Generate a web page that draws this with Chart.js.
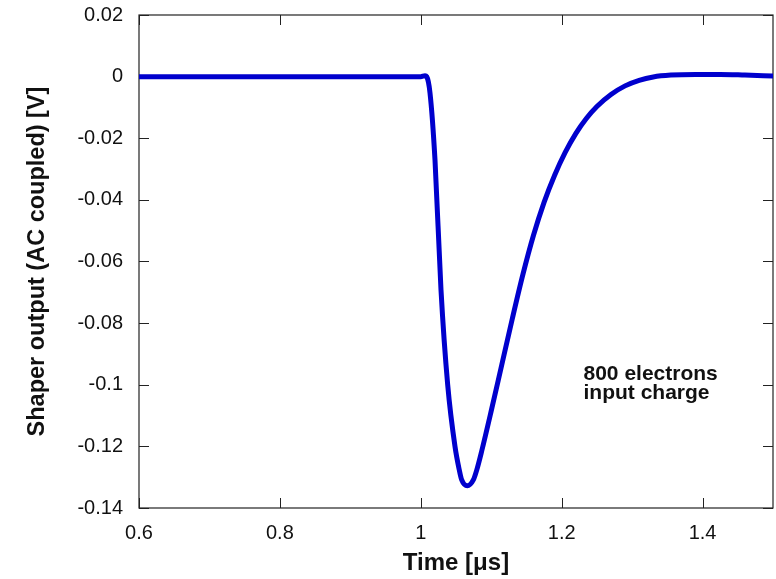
<!DOCTYPE html>
<html>
<head>
<meta charset="utf-8">
<script src="https://cdn.jsdelivr.net/npm/chart.js@4.4.1/dist/chart.umd.min.js"></script>
<style>
  body { margin: 0; background: #fff; }
  #wrap { width: 776px; height: 579px; }
</style>
</head>
<body>
<div id="wrap"><canvas id="chartCanvas" width="776" height="579"></canvas></div>
<script>
// waveform: time in microseconds, shaper output in volts
const timeUs = [0.6, 0.8, 1.0, 1.006, 1.0084, 1.0131, 1.0202, 1.0287, 1.0382, 1.0486, 1.0547, 1.0581,
  1.066, 1.0746, 1.0794, 1.0865, 1.100, 1.115, 1.130, 1.145, 1.160, 1.175, 1.190, 1.205, 1.220,
  1.235, 1.250, 1.270, 1.290, 1.310, 1.330, 1.355, 1.390, 1.425, 1.460, 1.5];
const shaperV = [0, 0, 0, 0.0003, 0, -0.0053, -0.0271, -0.0692, -0.1, -0.1201, -0.1277, -0.1309,
  -0.1328, -0.1309, -0.1277, -0.1215, -0.1085, -0.0935, -0.0785, -0.0642, -0.0515, -0.0408, -0.0320,
  -0.0246, -0.0185, -0.0136, -0.0097, -0.0058, -0.0030, -0.0012, -0.0001, 0.0005, 0.0007, 0.0007,
  0.0005, 0.0002];

const xTicks = [0.6, 0.8, 1.0, 1.2, 1.4];
const yTicks = [0.02, 0, -0.02, -0.04, -0.06, -0.08, -0.1, -0.12, -0.14];
const noteLines = ['800 electrons', 'input charge'];

const FONT = 'Liberation Sans, Arial, Helvetica, sans-serif';

// box around the plot with inward tick marks on all four sides
const framePlugin = {
  id: 'frame',
  beforeDatasetsDraw(chart) {
    const {ctx, chartArea: a, scales} = chart;
    ctx.save();
    ctx.strokeStyle = '#222';
    ctx.lineWidth = 1.2;
    ctx.strokeRect(a.left, a.top, a.right - a.left, a.bottom - a.top);
    ctx.lineWidth = 1;
    ctx.beginPath();
    xTicks.forEach(v => {
      const px = Math.round(scales.x.getPixelForValue(v)) + 0.5;
      ctx.moveTo(px, a.bottom); ctx.lineTo(px, a.bottom - 10);
      ctx.moveTo(px, a.top); ctx.lineTo(px, a.top + 10);
    });
    yTicks.forEach(v => {
      const py = Math.round(scales.y.getPixelForValue(v)) + 0.5;
      ctx.moveTo(a.left, py); ctx.lineTo(a.left + 10, py);
      ctx.moveTo(a.right, py); ctx.lineTo(a.right - 10, py);
    });
    ctx.stroke();
    ctx.restore();
  },
  afterDraw(chart) {
    const {ctx, scales} = chart;
    ctx.save();
    ctx.fillStyle = '#111';
    ctx.font = 'bold 21px ' + FONT;
    ctx.textBaseline = 'alphabetic';
    const x0 = scales.x.getPixelForValue(1.231);
    const y0 = scales.y.getPixelForValue(-0.0985);
    noteLines.forEach((t, i) => ctx.fillText(t, x0, y0 + i * 19));
    ctx.restore();
  }
};

const fmt = v => String(Number(v.toFixed(2)));

const ctx = document.getElementById('chartCanvas').getContext('2d');
new Chart(ctx, {
  type: 'line',
  data: {
    datasets: [{
      data: timeUs.map((t, i) => ({x: t, y: shaperV[i]})),
      borderColor: '#0000cd',
      borderWidth: 5,
      pointRadius: 0,
      cubicInterpolationMode: 'monotone',
      fill: false
    }]
  },
  options: {
    responsive: false,
    devicePixelRatio: 1,
    animation: false,
    layout: { padding: { top: 15, right: 3, left: 0, bottom: 0 } },
    plugins: { legend: { display: false }, tooltip: { enabled: false } },
    scales: {
      x: {
        type: 'linear',
        min: 0.6,
        max: 1.5,
        afterBuildTicks: s => { s.ticks = xTicks.map(v => ({value: v})); },
        afterFit: s => { s.height = 71; s.paddingLeft = 0; s.paddingRight = 0; },
        grid: { display: false },
        border: { display: false },
        ticks: { color: '#111', padding: 5, maxRotation: 0, font: { family: FONT, size: 20 }, callback: fmt },
        title: { display: true, text: 'Time [μs]', color: '#111', padding: { bottom: 1.5 },
          font: { family: FONT, size: 24, weight: 'bold' } }
      },
      y: {
        min: -0.14,
        max: 0.02,
        afterBuildTicks: s => { s.ticks = yTicks.map(v => ({value: v})); },
        afterFit: s => { s.width = 139; s.paddingTop = 0; s.paddingBottom = 0; },
        grid: { display: false },
        border: { display: false },
        ticks: { color: '#111', padding: 8, font: { family: FONT, size: 20 }, callback: fmt },
        title: { display: true, text: 'Shaper output (AC coupled) [V]', color: '#111', padding: { top: 23 },
          font: { family: FONT, size: 23.5, weight: 'bold' } }
      }
    }
  },
  plugins: [framePlugin]
});
</script>
</body>
</html>
